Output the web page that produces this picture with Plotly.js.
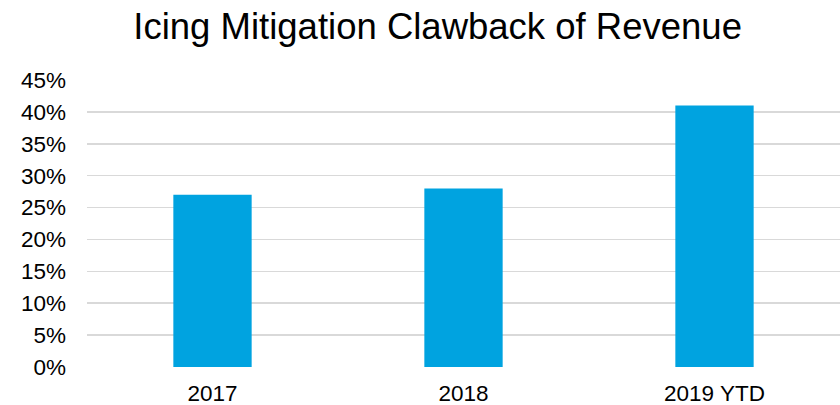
<!DOCTYPE html>
<html>
<head>
<meta charset="utf-8">
<script src="https://cdn.plot.ly/plotly-3.0.1.min.js"></script>
<style>html,body{margin:0;padding:0;background:#fff;}#chart{width:840px;height:405px;}</style>
</head>
<body>
<div id="chart"></div>
<script>
var categories = ["2017", "2018", "2019 YTD"];
var clawbackPct = [27, 28, 41];
var yTickValues = [0, 5, 10, 15, 20, 25, 30, 35, 40, 45];
var yTickLabels = ["0%", "5%", "10%", "15%", "20%", "25%", "30%", "35%", "40%", "45%"];

var trace = {
  type: "bar",
  x: categories,
  y: clawbackPct,
  marker: {color: "#00A3E0"},
  hoverinfo: "none"
};

var layout = {
  width: 840,
  height: 405,
  margin: {l: 87, r: 0, t: 80, b: 38, pad: 0},
  paper_bgcolor: "#ffffff",
  plot_bgcolor: "#ffffff",
  bargap: 0.688,
  showlegend: false,
  title: {
    text: "Icing Mitigation Clawback of Revenue",
    font: {family: "Liberation Sans, Arial, sans-serif", size: 36.5, color: "#000000"},
    x: 0.521,
    xanchor: "center",
    y: 0.966,
    yanchor: "top"
  },
  font: {family: "Liberation Sans, Arial, sans-serif", color: "#000000"},
  xaxis: {
    type: "category",
    tickfont: {size: 22.5, color: "#000000"},
    showgrid: false,
    showline: false,
    zeroline: false,
    ticks: "",
    ticklabelstandoff: 10
  },
  yaxis: {
    range: [0, 45],
    tickvals: yTickValues,
    ticktext: yTickLabels,
    tickfont: {size: 22.5, color: "#000000"},
    showgrid: true,
    gridcolor: "#D9D9D9",
    gridwidth: 1.5,
    zeroline: false,
    showline: false,
    ticks: "",
    ticklabelstandoff: 20,
    fixedrange: true
  }
};

Plotly.newPlot("chart", [trace], layout, {displayModeBar: false, staticPlot: true});
</script>
</body>
</html>
